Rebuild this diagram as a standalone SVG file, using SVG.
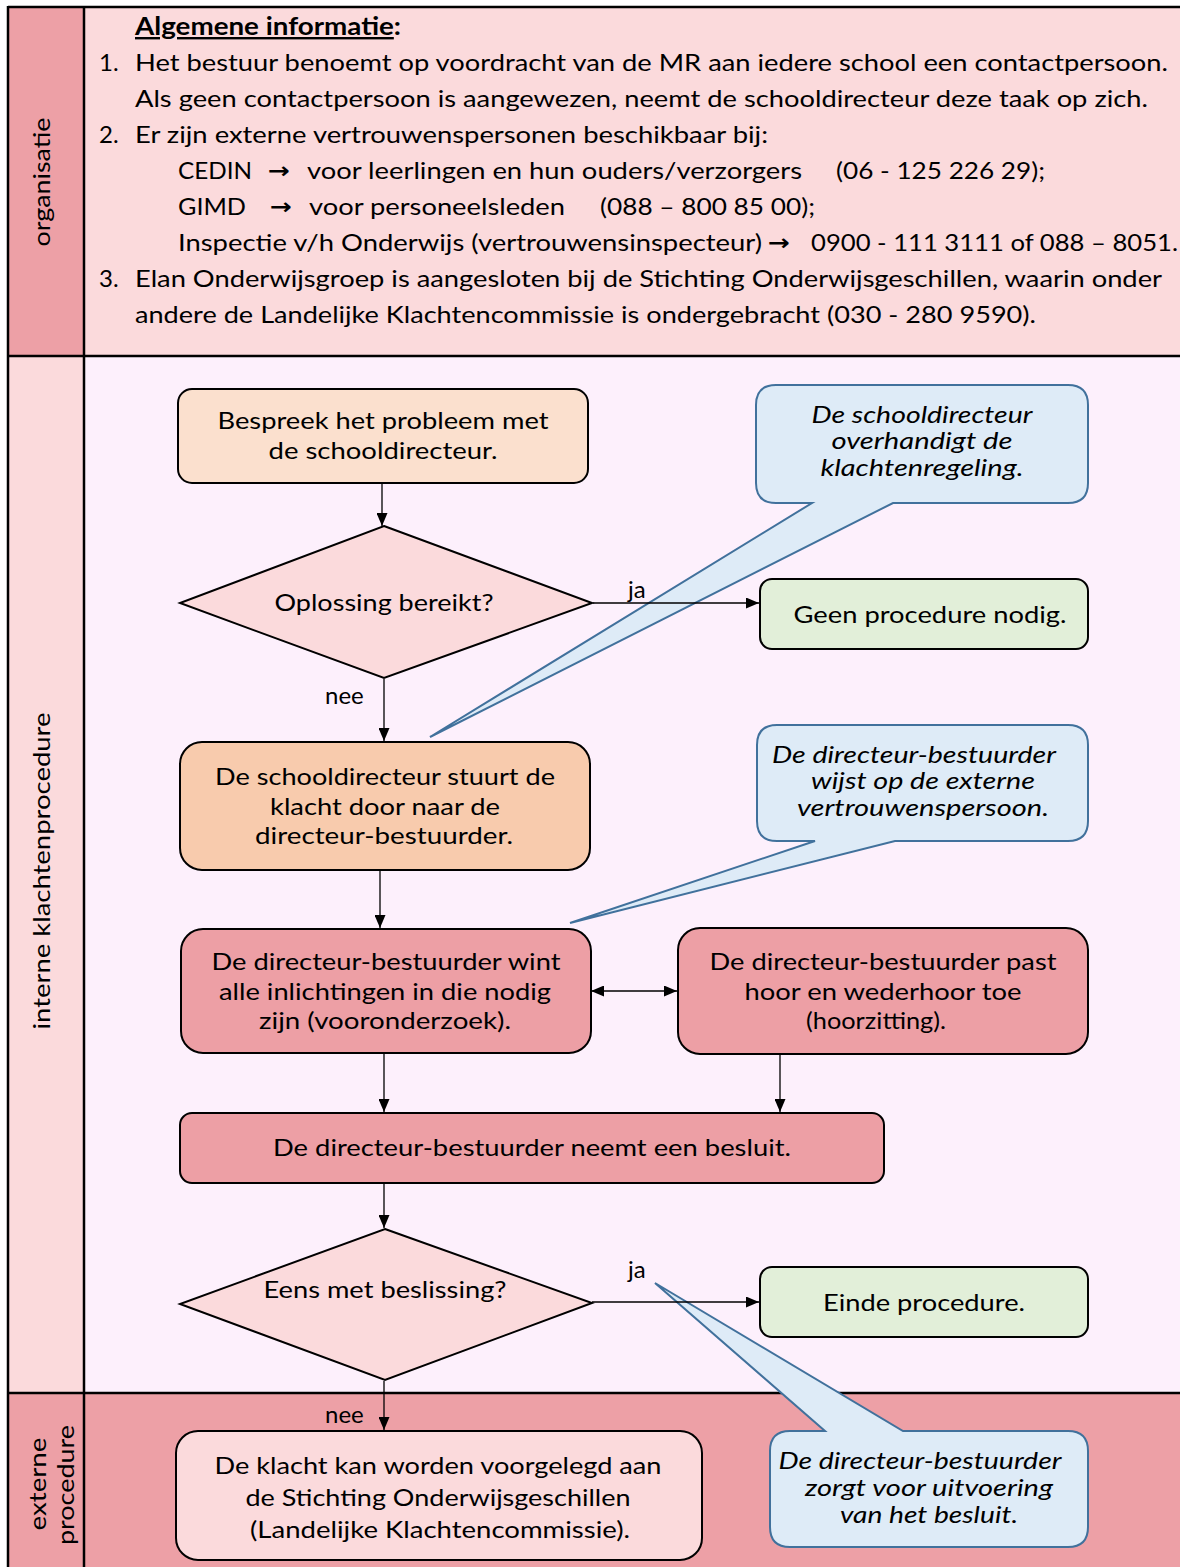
<svg xmlns="http://www.w3.org/2000/svg" width="1180" height="1567" viewBox="0 0 1180 1567">
<defs>
<marker id="ah" markerUnits="userSpaceOnUse" markerWidth="13" markerHeight="11" refX="13" refY="5.5" orient="auto-start-reverse"><path d="M0,0 L13,5.5 L0,11 z" fill="#000"/></marker>
</defs>
<style>
text{font-family:Lato,"Open Sans","Liberation Sans",sans-serif;font-size:24px;fill:#000}
.c{text-anchor:middle}
.it{font-style:italic}
.box{stroke:#000;stroke-width:2}
.call{fill:#DEEBF7;stroke:#41719C;stroke-width:2;stroke-linejoin:miter}
.con{stroke:#000;stroke-width:1.3;fill:none;marker-end:url(#ah)}
.arr{font-family:"DejaVu Sans",sans-serif;font-weight:bold;font-size:22px}
.band{stroke:#000;stroke-width:2.5}
</style>
<g id="lanes">
<rect x="8" y="7" width="76" height="349" fill="#EDA0A6"/>
<rect x="84" y="7" width="1096" height="349" fill="#FBDADC"/>
<rect x="8" y="356" width="76" height="1037" fill="#FBDADC"/>
<rect x="84" y="356" width="1096" height="1037" fill="#FDF0FC"/>
<rect x="8" y="1393" width="1172" height="174" fill="#EDA0A6"/>
<path class="band" fill="none" d="M8,7 H1180 M8,356 H1180 M8,1393 H1180 M8,6 V1567 M84,7 V1567"/>
<text class="c" transform="translate(50,182) rotate(-90)" textLength="129" lengthAdjust="spacingAndGlyphs">organisatie</text>
<text class="c" transform="translate(50,871) rotate(-90)" textLength="317" lengthAdjust="spacingAndGlyphs">interne klachtenprocedure</text>
<text class="c" transform="translate(46,1484) rotate(-90)" textLength="93" lengthAdjust="spacingAndGlyphs">externe</text>
<text class="c" transform="translate(74,1485) rotate(-90)" textLength="120" lengthAdjust="spacingAndGlyphs">procedure</text>
</g>
<g id="info">
<text x="135" y="35" font-weight="bold" textLength="266" lengthAdjust="spacingAndGlyphs"><tspan text-decoration="underline">Algemene informatie</tspan>:</text>
<text x="99" y="71">1.</text>
<text x="135" y="71" textLength="1033" lengthAdjust="spacingAndGlyphs">Het bestuur benoemt op voordracht van de MR aan iedere school een contactpersoon.</text>
<text x="135" y="107" textLength="1013" lengthAdjust="spacingAndGlyphs">Als geen contactpersoon is aangewezen, neemt de schooldirecteur deze taak op zich.</text>
<text x="99" y="143">2.</text>
<text x="135" y="143" textLength="633" lengthAdjust="spacingAndGlyphs">Er zijn externe vertrouwenspersonen beschikbaar bij:</text>
<text x="178" y="179" textLength="74" lengthAdjust="spacingAndGlyphs">CEDIN</text>
<text x="268" y="178" class="arr" textLength="22" lengthAdjust="spacingAndGlyphs">→</text>
<text x="307" y="179" textLength="495" lengthAdjust="spacingAndGlyphs">voor leerlingen en hun ouders/verzorgers</text>
<text x="836" y="179" textLength="209" lengthAdjust="spacingAndGlyphs">(06 - 125 226 29);</text>
<text x="178" y="215" textLength="68" lengthAdjust="spacingAndGlyphs">GIMD</text>
<text x="270" y="214" class="arr" textLength="22" lengthAdjust="spacingAndGlyphs">→</text>
<text x="309" y="215" textLength="256" lengthAdjust="spacingAndGlyphs">voor personeelsleden</text>
<text x="600" y="215" textLength="215" lengthAdjust="spacingAndGlyphs">(088 – 800 85 00);</text>
<text x="178" y="251" textLength="584" lengthAdjust="spacingAndGlyphs">Inspectie v/h Onderwijs (vertrouwensinspecteur)</text>
<text x="768" y="250" class="arr" textLength="22" lengthAdjust="spacingAndGlyphs">→</text>
<text x="811" y="251" textLength="367" lengthAdjust="spacingAndGlyphs">0900 - 111 3111 of 088 – 8051.</text>
<text x="99" y="287">3.</text>
<text x="135" y="287" textLength="1027" lengthAdjust="spacingAndGlyphs">Elan Onderwijsgroep is aangesloten bij de Stichting Onderwijsgeschillen, waarin onder</text>
<text x="135" y="323" textLength="901" lengthAdjust="spacingAndGlyphs">andere de Landelijke Klachtencommissie is ondergebracht (030 - 280 9590).</text>
</g>
<g id="callout1">
<path class="call" d="M776,385 H1068 Q1088,385 1088,405 V483 Q1088,503 1068,503 H893 L430,737 L812,503 H776 Q756,503 756,483 V405 Q756,385 776,385 Z"/>
<text class="c it" x="922" y="423" textLength="221" lengthAdjust="spacingAndGlyphs">De schooldirecteur</text>
<text class="c it" x="922" y="449" textLength="181" lengthAdjust="spacingAndGlyphs">overhandigt de</text>
<text class="c it" x="922" y="476" textLength="203" lengthAdjust="spacingAndGlyphs">klachtenregeling.</text>
</g>
<g id="callout2">
<path class="call" d="M777,725 H1068 Q1088,725 1088,745 V821 Q1088,841 1068,841 H895 L570,923 L815,841 H777 Q757,841 757,821 V745 Q757,725 777,725 Z"/>
<text class="c it" x="914" y="763" textLength="284" lengthAdjust="spacingAndGlyphs">De directeur-bestuurder</text>
<text class="c it" x="923" y="789" textLength="224" lengthAdjust="spacingAndGlyphs">wijst op de externe</text>
<text class="c it" x="923" y="816" textLength="252" lengthAdjust="spacingAndGlyphs">vertrouwenspersoon.</text>
</g>
<g id="callout3">
<path class="call" d="M790,1431 H825 L655,1283 L903,1431 H1068 Q1088,1431 1088,1451 V1527 Q1088,1547 1068,1547 H790 Q770,1547 770,1527 V1451 Q770,1431 790,1431 Z"/>
<text class="c it" x="920" y="1469" textLength="283" lengthAdjust="spacingAndGlyphs">De directeur-bestuurder</text>
<text class="c it" x="929" y="1496" textLength="248" lengthAdjust="spacingAndGlyphs">zorgt voor uitvoering</text>
<text class="c it" x="929" y="1523" textLength="178" lengthAdjust="spacingAndGlyphs">van het besluit.</text>
</g>
<g id="n1">
<rect class="box" x="178" y="389" width="410" height="94" rx="14" fill="#FBE0CE"/>
<text class="c" x="383" y="429" textLength="331" lengthAdjust="spacingAndGlyphs">Bespreek het probleem met</text>
<text class="c" x="383" y="459" textLength="229" lengthAdjust="spacingAndGlyphs">de schooldirecteur.</text>
</g>
<g id="d1">
<polygon class="box" points="384,526 592,603 384,678 180,603" fill="#FBDADC"/>
<text class="c" x="384" y="611" textLength="219" lengthAdjust="spacingAndGlyphs">Oplossing bereikt?</text>
</g>
<g id="n2">
<rect class="box" x="760" y="579" width="328" height="70" rx="12" fill="#E2EFD9"/>
<text class="c" x="930" y="623" textLength="273" lengthAdjust="spacingAndGlyphs">Geen procedure nodig.</text>
</g>
<g id="n3">
<rect class="box" x="180" y="742" width="410" height="128" rx="22" fill="#F8CBAD"/>
<text class="c" x="385" y="785" textLength="340" lengthAdjust="spacingAndGlyphs">De schooldirecteur stuurt de</text>
<text class="c" x="385" y="815" textLength="230" lengthAdjust="spacingAndGlyphs">klacht door naar de</text>
<text class="c" x="384" y="844" textLength="258" lengthAdjust="spacingAndGlyphs">directeur-bestuurder.</text>
</g>
<g id="n4">
<rect class="box" x="181" y="929" width="410" height="124" rx="22" fill="#ED9FA5"/>
<text class="c" x="386" y="970" textLength="349" lengthAdjust="spacingAndGlyphs">De directeur-bestuurder wint</text>
<text class="c" x="385" y="1000" textLength="332" lengthAdjust="spacingAndGlyphs">alle inlichtingen in die nodig</text>
<text class="c" x="385" y="1029" textLength="252" lengthAdjust="spacingAndGlyphs">zijn (vooronderzoek).</text>
</g>
<g id="n5">
<rect class="box" x="678" y="928" width="410" height="126" rx="22" fill="#ED9FA5"/>
<text class="c" x="883" y="970" textLength="347" lengthAdjust="spacingAndGlyphs">De directeur-bestuurder past</text>
<text class="c" x="883" y="1000" textLength="277" lengthAdjust="spacingAndGlyphs">hoor en wederhoor toe</text>
<text class="c" x="876" y="1029" textLength="140" lengthAdjust="spacingAndGlyphs">(hoorzitting).</text>
</g>
<g id="n6">
<rect class="box" x="180" y="1113" width="704" height="70" rx="12" fill="#ED9FA5"/>
<text class="c" x="532" y="1156" textLength="518" lengthAdjust="spacingAndGlyphs">De directeur-bestuurder neemt een besluit.</text>
</g>
<g id="d2">
<polygon class="box" points="385,1229 592,1303 385,1380 180,1304" fill="#FBDADC"/>
<text class="c" x="385" y="1298" textLength="243" lengthAdjust="spacingAndGlyphs">Eens met beslissing?</text>
</g>
<g id="n7">
<rect class="box" x="760" y="1267" width="328" height="70" rx="12" fill="#E2EFD9"/>
<text class="c" x="924" y="1311" textLength="202" lengthAdjust="spacingAndGlyphs">Einde procedure.</text>
</g>
<g id="n8">
<rect class="box" x="176" y="1431" width="526" height="129" rx="22" fill="#FBDADC"/>
<text class="c" x="438" y="1474" textLength="447" lengthAdjust="spacingAndGlyphs">De klacht kan worden voorgelegd aan</text>
<text class="c" x="438" y="1506" textLength="385" lengthAdjust="spacingAndGlyphs">de Stichting Onderwijsgeschillen</text>
<text class="c" x="440" y="1538" textLength="380" lengthAdjust="spacingAndGlyphs">(Landelijke Klachtencommissie).</text>
</g>
<g id="connectors">
<line class="con" x1="382" y1="484" x2="382" y2="526"/>
<line class="con" x1="593" y1="603" x2="759" y2="603"/>
<line class="con" x1="384" y1="679" x2="384" y2="741"/>
<line class="con" x1="380" y1="871" x2="380" y2="928"/>
<line class="con" x1="591" y1="991" x2="677" y2="991" marker-start="url(#ah)"/>
<line class="con" x1="384" y1="1054" x2="384" y2="1112"/>
<line class="con" x1="780" y1="1055" x2="780" y2="1112"/>
<line class="con" x1="384" y1="1184" x2="384" y2="1228"/>
<line class="con" x1="592" y1="1302" x2="759" y2="1302"/>
<line class="con" x1="384" y1="1381" x2="384" y2="1430"/>
<text x="628" y="598">ja</text>
<text x="325" y="704">nee</text>
<text x="628" y="1278">ja</text>
<text x="325" y="1423">nee</text>
</g>
</svg>
